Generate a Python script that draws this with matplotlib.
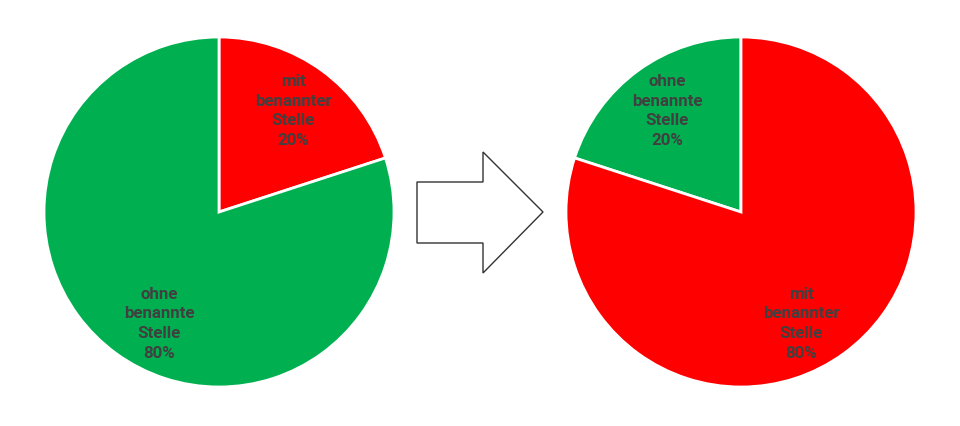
import matplotlib
matplotlib.use("Agg")
import numpy as np
import matplotlib.pyplot as plt
from matplotlib.patches import Polygon

# Data
categories_before = ["mit\nbenannter\nStelle", "ohne\nbenannte\nStelle"]
values_before = [20, 80]
colors_before = ["#FF0000", "#00B050"]

categories_after = ["ohne\nbenannte\nStelle", "mit\nbenannter\nStelle"]
values_after = [20, 80]
colors_after = ["#00B050", "#FF0000"]

W, H = 960, 427
fig = plt.figure(figsize=(W / 100, H / 100), dpi=100)
ax = fig.add_axes([0, 0, 1, 1])

txt = dict(color="#404040", fontsize=12.2, fontweight="bold",
           ha="center", va="center", linespacing=1.4,
           family=["Roboto", "DejaVu Sans"])

def labels(cats, vals):
    return [f"{c}\n{v}%" for c, v in zip(cats, vals)]

def rotate_label(t, center, deg):
    x, y = t.get_position()
    cx, cy = center
    a = np.deg2rad(deg)
    dx, dy = x - cx, y - cy
    t.set_position((cx + dx * np.cos(a) - dy * np.sin(a),
                    cy + dx * np.sin(a) + dy * np.cos(a)))

c1 = (219, H - 213)
c2 = (741, H - 213)

# Left pie: red wedge clockwise from 12 o'clock
_, t1 = ax.pie(values_before, labels=labels(categories_before, values_before),
               colors=colors_before, startangle=90, counterclock=False,
               center=c1, radius=175, labeldistance=0.72,
               wedgeprops=dict(edgecolor="white", linewidth=2), textprops=txt,
               frame=True)
rotate_label(t1[1], c1, 7.5)

# Right pie: green wedge counter-clockwise from 12 o'clock
_, t2 = ax.pie(values_after, labels=labels(categories_after, values_after),
               colors=colors_after, startangle=90, counterclock=True,
               center=c2, radius=175, labeldistance=0.72,
               wedgeprops=dict(edgecolor="white", linewidth=2), textprops=txt,
               frame=True)
rotate_label(t2[1], c2, -7.5)

ax.set_xlim(0, W)
ax.set_ylim(0, H)
ax.set_aspect("equal")
ax.axis("off")

# Arrow
arrow_pts = [(417, 183), (483, 183), (483, 153), (543, 213),
             (483, 274), (483, 244), (417, 244)]
arrow = Polygon([(x, H - y) for x, y in arrow_pts], closed=True,
                facecolor="white", edgecolor="#333333", linewidth=1)
ax.add_patch(arrow)

fig.savefig("out.png", dpi=100)
